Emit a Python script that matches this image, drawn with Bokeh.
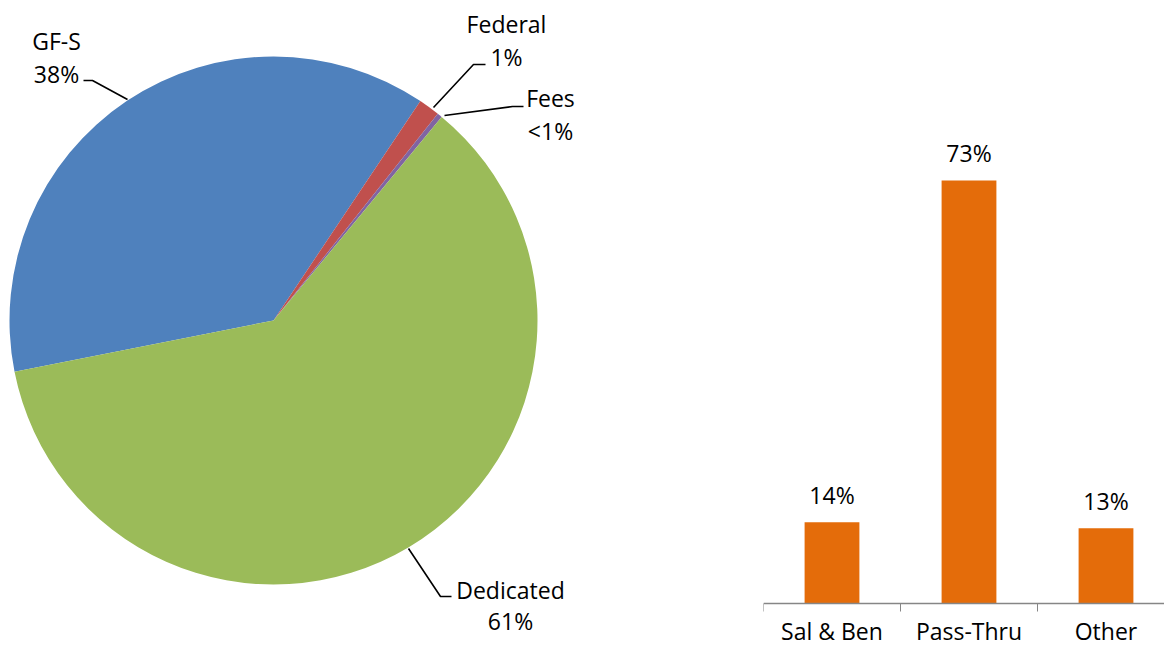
import math
from bokeh.plotting import figure
from bokeh.layouts import row
from bokeh.models import Range1d, FixedTicker, ColumnDataSource
from bokeh.core.properties import value
from bokeh.embed import file_html
from bokeh.resources import INLINE

# ---------------- data ----------------
pie_names = ["GF-S", "Federal", "Fees", "Dedicated"]
pie_values = [37.5, 1.3, 0.3, 60.9]
pie_pct_labels = ["38%", "1%", "<1%", "61%"]
pie_colors = ["#4F81BD", "#C0504D", "#8064A2", "#9BBB59"]

bar_categories = ["Sal & Ben", "Pass-Thru", "Other"]
bar_values = [14, 73, 13]
bar_labels = ["14%", "73%", "13%"]

FONT = "Open Sans"
FS = "23px"
TXT = "#000000"
H = 646
AXIS_Y = 603          # pixel row of the bar chart's baseline
PX_PER_PCT = 5.795
PX_PER_CAT = 137.0

# ---------------- pie ----------------
pie = figure(width=748, height=H, x_range=Range1d(-273, 475),
             y_range=Range1d(-(H - 320), 320),
             toolbar_location=None, output_backend="svg",
             x_axis_location=None, y_axis_location=None, min_border=0)
pie.grid.visible = False
pie.outline_line_color = None

start_deg = 191.2
total = sum(pie_values)
starts, ends = [], []
cur = start_deg
for v in pie_values:
    starts.append(math.radians(cur))
    cur -= v / total * 360.0
    ends.append(math.radians(cur))

src = ColumnDataSource(dict(start=starts, end=ends, color=pie_colors, name=pie_names))
pie.wedge(x=0, y=0, radius=264, start_angle="start", end_angle="end", direction="clock",
          fill_color="color", line_color=None, source=src)

# label layout (pixel offsets from pie centre)
name_pos = [(-217, 280), (233, 297), (277, 223), (237, -269)]
pct_pos = [(-217, 247), (233, 264), (277, 190), (237, -300)]
leaders = [
    [(-190, 240), (-181, 240), (-146, 221)],
    [(212, 256), (200, 256), (160, 213)],
    [(250, 214), (239, 214), (171, 205)],
    [(135, -228), (167, -276), (178, -276)],
]
for pts in leaders:
    pie.line([p[0] for p in pts], [p[1] for p in pts], line_color="#000000", line_width=1.6)

pie.text(x=[p[0] for p in name_pos] + [p[0] for p in pct_pos],
         y=[p[1] for p in name_pos] + [p[1] for p in pct_pos],
         text=pie_names + pie_pct_labels,
         text_font=value(FONT), text_font_size=FS, text_color=TXT,
         text_align="center", text_baseline="middle")

# ---------------- bars ----------------
frame_w = 416 - 15
bar = figure(width=416, height=H, x_range=Range1d(0, frame_w / PX_PER_CAT),
             y_range=Range1d(-(H - AXIS_Y) / PX_PER_PCT, AXIS_Y / PX_PER_PCT),
             toolbar_location=None, output_backend="svg", y_axis_location=None,
             min_border_left=15, min_border_right=0, min_border_top=0, min_border_bottom=0)
bar.grid.visible = False
bar.outline_line_color = None

xs = [i + 0.5 for i in range(len(bar_categories))]
bsrc = ColumnDataSource(dict(x=xs, top=bar_values, label=bar_labels))
bar.vbar(x="x", top="top", width=0.4, bottom=0, fill_color="#E46C0A", line_color=None, source=bsrc)
bar.text(x="x", y="top", text="label", source=bsrc, y_offset=-27,
         text_font=value(FONT), text_font_size=FS, text_color=TXT,
         text_align="center", text_baseline="middle")

ax = bar.xaxis[0]
ax.fixed_location = 0
ax.ticker = FixedTicker(ticks=xs, minor_ticks=list(range(len(bar_categories) + 1)))
ax.major_label_overrides = {x: c for x, c in zip(xs, bar_categories)}
ax.major_tick_out = 0
ax.major_tick_in = 0
ax.minor_tick_out = 8
ax.minor_tick_in = 0
ax.minor_tick_line_color = "#868686"
ax.axis_line_color = "#868686"
ax.axis_line_width = 1.3
ax.major_label_standoff = 3
ax.major_label_text_font = FONT
ax.major_label_text_font_size = FS
ax.major_label_text_color = TXT

layout = row(pie, bar)
open("out.html", "w").write(file_html(layout, INLINE))
